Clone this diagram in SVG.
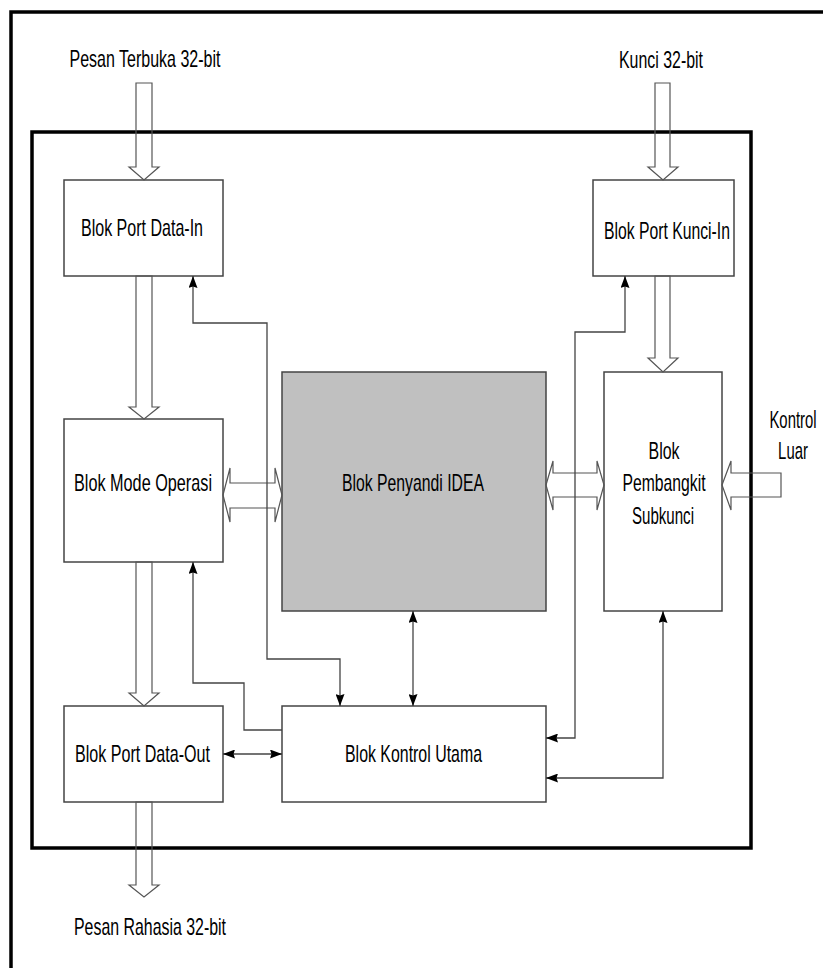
<svg xmlns="http://www.w3.org/2000/svg" width="823" height="968" viewBox="0 0 823 968">
<style>
  .frame { fill: none; stroke: #000; stroke-width: 3.5; }
  .box { fill: #fff; stroke: #444; stroke-width: 1.5; }
  .idea { fill: #c0c0c0; stroke: #444; stroke-width: 1.5; }
  .fat { fill: none; stroke: #555; stroke-width: 1.2; stroke-linejoin: miter; }
  .conn { fill: none; stroke: #444; stroke-width: 1.3; }
  text { font-family: "Liberation Sans", Arial, sans-serif; font-size: 24px; fill: #000; text-anchor: middle; }
</style>
<defs>
  <marker id="ah" viewBox="0 0 12 9" refX="12" refY="4.5" markerWidth="12" markerHeight="9" markerUnits="userSpaceOnUse" orient="auto-start-reverse">
    <path d="M0,0 L12,4.5 L0,9 L1.5,4.5 Z" fill="#000"/>
  </marker>
</defs>
<rect x="0" y="0" width="823" height="968" fill="#fff"/>

<!-- frames -->
<g id="frames">
  <path class="frame" d="M11,968 L11,12 L823,12"/>
  <rect class="frame" x="32" y="132" width="719" height="716"/>
</g>

<!-- nodes -->
<g id="node-datain">
  <rect class="box" x="64" y="180" width="159" height="96"/>
  <text x="142" y="236" textLength="122" lengthAdjust="spacingAndGlyphs">Blok Port Data-In</text>
</g>
<g id="node-kunciin">
  <rect class="box" x="593" y="180" width="141" height="96"/>
  <text x="667" y="239" textLength="126" lengthAdjust="spacingAndGlyphs">Blok Port Kunci-In</text>
</g>
<g id="node-mode">
  <rect class="box" x="64" y="419" width="159" height="143"/>
  <text x="143" y="491" textLength="138" lengthAdjust="spacingAndGlyphs">Blok Mode Operasi</text>
</g>
<g id="node-idea">
  <rect class="idea" x="282" y="372" width="264" height="239"/>
  <text x="413" y="491" textLength="142" lengthAdjust="spacingAndGlyphs">Blok Penyandi IDEA</text>
</g>
<g id="node-pembangkit">
  <rect class="box" x="604" y="372" width="118" height="239"/>
  <text x="664" y="459" textLength="31" lengthAdjust="spacingAndGlyphs">Blok</text>
  <text x="664" y="491" textLength="83" lengthAdjust="spacingAndGlyphs">Pembangkit</text>
  <text x="663" y="524" textLength="62" lengthAdjust="spacingAndGlyphs">Subkunci</text>
</g>
<g id="node-dataout">
  <rect class="box" x="64" y="706" width="159" height="96"/>
  <text x="142.5" y="762" textLength="135" lengthAdjust="spacingAndGlyphs">Blok Port Data-Out</text>
</g>
<g id="node-kontrol">
  <rect class="box" x="282" y="706" width="264" height="96"/>
  <text x="413.5" y="762" textLength="137" lengthAdjust="spacingAndGlyphs">Blok Kontrol Utama</text>
</g>

<!-- external labels -->
<g id="label-pesan-terbuka">
  <text x="145" y="67" textLength="151" lengthAdjust="spacingAndGlyphs">Pesan Terbuka 32-bit</text>
</g>
<g id="label-kunci">
  <text x="661" y="68" textLength="84" lengthAdjust="spacingAndGlyphs">Kunci 32-bit</text>
</g>
<g id="label-kontrol-luar">
  <text transform="translate(793,428) scale(0.62,1)" x="0" y="0">Kontrol</text>
  <text transform="translate(793,459) scale(0.62,1)" x="0" y="0">Luar</text>
</g>
<g id="label-pesan-rahasia">
  <text x="150" y="935" textLength="152" lengthAdjust="spacingAndGlyphs">Pesan Rahasia 32-bit</text>
</g>

<!-- connectors -->
<g id="connectors">
  <!-- fat data arrows -->
  <path class="fat" d="M136,83 L152,83 L152,167 L159,167 L144,180 L129,167 L136,167 Z"/>
  <path class="fat" d="M136,276 L152,276 L152,407 L159,407 L144,419 L129,407 L136,407 Z"/>
  <path class="fat" d="M136,562 L152,562 L152,693 L159,693 L144,706 L129,693 L136,693 Z"/>
  <path class="fat" d="M136,802 L152,802 L152,885 L159,885 L144,897 L129,885 L136,885 Z"/>
  <path class="fat" d="M655,83 L670,83 L670,167 L678,167 L663,180 L648,167 L655,167 Z"/>
  <path class="fat" d="M655,276 L670,276 L670,358 L678,358 L663,372 L648,358 L655,358 Z"/>
  <path class="fat" d="M223,495 L230,468 L230,483 L275,483 L275,468 L282,495 L275,522 L275,508 L230,508 L230,522 Z"/>
  <path class="fat" d="M546,485 L553,461 L553,473 L597,473 L597,461 L604,485 L597,510 L597,497 L553,497 L553,510 Z"/>
  <path class="fat" d="M722,485 L731,461 L731,473 L781,473 L781,497 L731,497 L731,510 Z"/>

  <!-- control lines -->
  <path class="conn" d="M193,276 L193,323 L267,323 L267,659 L340,659 L340,706" marker-start="url(#ah)" marker-end="url(#ah)"/>
  <path class="conn" d="M193,562 L193,683 L244,683 L244,730 L282,730" marker-start="url(#ah)"/>
  <path class="conn" d="M413,611 L413,706" marker-start="url(#ah)" marker-end="url(#ah)"/>
  <path class="conn" d="M223,754 L282,754" marker-start="url(#ah)" marker-end="url(#ah)"/>
  <path class="conn" d="M625,276 L625,332 L575,332 L575,738 L546,738" marker-start="url(#ah)" marker-end="url(#ah)"/>
  <path class="conn" d="M663,611 L663,778 L546,778" marker-start="url(#ah)" marker-end="url(#ah)"/>
</g>
</svg>
